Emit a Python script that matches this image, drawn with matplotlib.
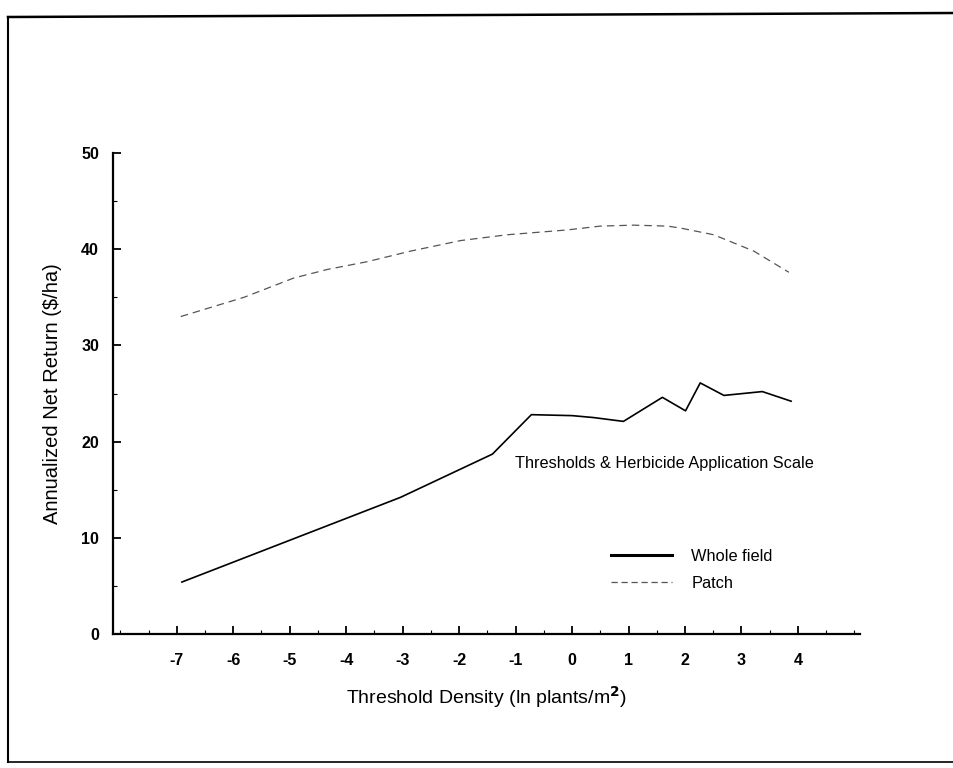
import numpy as np
import matplotlib
matplotlib.use("Agg")
import matplotlib.pyplot as plt
from matplotlib.lines import Line2D
from matplotlib.ticker import MultipleLocator

plt.rcParams['font.family'] = ['Liberation Sans', 'DejaVu Sans']
plt.rcParams['axes.unicode_minus'] = False

# whole field (solid)
whole_x = [-6.91, -3.04, -1.41, -0.72, 0.0, 0.38, 0.91, 1.60, 2.01, 2.27, 2.69, 3.37, 3.88]
whole_y = [5.4, 14.2, 18.7, 22.8, 22.7, 22.5, 22.1, 24.6, 23.2, 26.1, 24.8, 25.2, 24.2]

# patch (dashed)
patch_x = [-6.93, -5.81, -4.93, -4.33, -3.63, -2.86, -1.97, -1.15, -0.09, 0.50, 1.09, 1.69, 1.92, 2.51, 3.22, 3.84]
patch_y = [33.0, 35.0, 37.0, 37.9, 38.7, 39.8, 40.9, 41.5, 42.0, 42.4, 42.5, 42.4, 42.2, 41.5, 39.8, 37.6]

x_ticks = list(range(-7, 5))
y_ticks = [0, 10, 20, 30, 40, 50]

fig = plt.figure(figsize=(9.54, 7.68), dpi=100)
ax = fig.add_axes([113/954, 1 - 634/768, (860 - 113)/954, (634 - 153)/768])

ax.plot(whole_x, whole_y, color='black', lw=1.2, label='Whole field')
ax.plot(patch_x, patch_y, color='#555555', lw=0.9, ls=(0, (6, 4)), label='Patch')

ax.set_xlim(-8.13, 5.1)
ax.set_ylim(0, 50)
ax.set_xticks(x_ticks)
ax.set_yticks(y_ticks)
ax.xaxis.set_minor_locator(MultipleLocator(0.5))
ax.yaxis.set_minor_locator(MultipleLocator(5))

for s in ['top', 'right']:
    ax.spines[s].set_visible(False)
for s in ['left', 'bottom']:
    ax.spines[s].set_linewidth(1.6)

ax.tick_params(which='major', direction='in', length=6, width=1.3, labelsize=11.5)
ax.tick_params(which='minor', direction='in', length=3, width=0.8)
ax.tick_params(axis='x', which='major', pad=14)
ax.tick_params(axis='y', which='major', pad=10)
for lbl in ax.get_xticklabels() + ax.get_yticklabels():
    lbl.set_fontweight('bold')

ax.set_xlabel('Threshold Density (ln plants/m$^{\\mathbf{2}}$)', fontsize=14, labelpad=11)
ax.set_ylabel('Annualized Net Return ($/ha)', fontsize=14.5, labelpad=14)

# legend block
ax.text(0.538, 0.355, 'Thresholds & Herbicide Application Scale', transform=ax.transAxes,
        fontsize=11.7, ha='left', va='center')
handles = [Line2D([], [], color='black', lw=2.2),
           Line2D([], [], color='#555555', lw=0.9, ls=(0, (5, 3)))]
ax.legend(handles, ['Whole field', 'Patch'], loc='upper left',
          bbox_to_anchor=(0.658, 0.19), frameon=False, fontsize=11.8,
          handlelength=3.7, handletextpad=1.2, labelspacing=0.7,
          borderaxespad=0)

# scanned page frame
fig.add_artist(Line2D([8/954, 8/954], [1 - 762/768, 1 - 17/768], color='black', lw=1.5, transform=fig.transFigure))
fig.add_artist(Line2D([8/954, 1.0], [1 - 17/768, 1 - 13/768], color='black', lw=1.8, transform=fig.transFigure))
fig.add_artist(Line2D([8/954, 1.0], [1 - 762/768, 1 - 762/768], color='black', lw=1.2, transform=fig.transFigure))

fig.savefig('out.png', dpi=100)
